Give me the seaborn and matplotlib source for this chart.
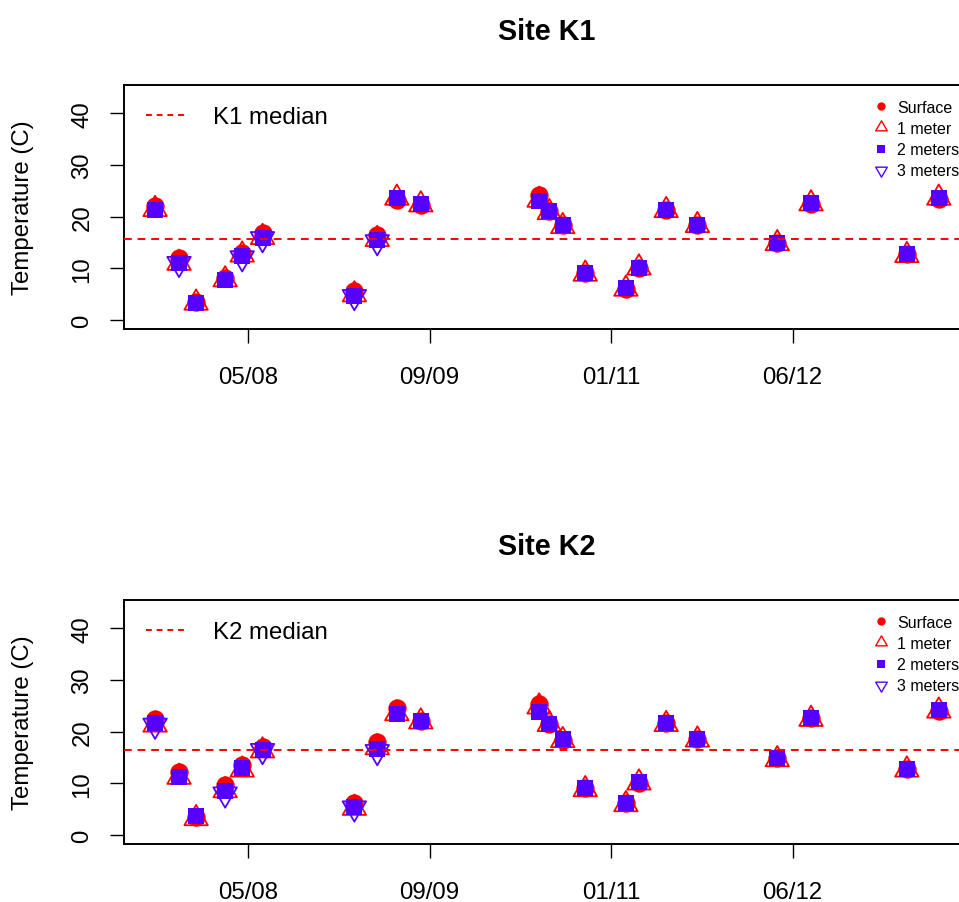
import numpy as np
import pandas as pd
import matplotlib
matplotlib.use("Agg")
import matplotlib.pyplot as plt
import matplotlib.dates as mdates
from matplotlib.path import Path
from matplotlib.lines import Line2D
import seaborn as sns

# ---------------- data ----------------
dates = ["2007-08-19", "2007-10-24", "2007-12-10", "2008-02-28", "2008-04-15",
         "2008-06-10", "2009-02-18", "2009-04-22", "2009-06-15", "2009-08-20",
         "2010-07-12", "2010-08-09", "2010-09-15", "2010-11-16", "2011-03-08",
         "2011-04-13", "2011-06-27", "2011-09-21", "2012-04-28", "2012-07-30",
         "2013-04-20", "2013-07-17"]

nan = np.nan
k1_surface = [22.0, 11.9, 3.4, 8.2, 13.0, 16.8, 5.6, 16.4, 23.3, 22.3, 24.1,
              21.0, 18.3, 9.0, 6.0, 10.0, 21.2, 18.3, 14.8, 22.5, 12.7, 23.4]
k1_1m = [21.4, 11.0, 3.3, 7.8, 12.6, 16.0, 4.9, 15.6, 23.6, 22.3, 23.2,
         20.8, 18.1, 8.9, 6.0, 10.1, 21.2, 18.3, 14.8, 22.5, 12.5, 23.6]
k1_2m = [21.3, 11.0, 3.3, 7.7, 12.3, 15.8, 4.7, 15.5, 23.5, 22.4, 23.1,
         21.0, 18.4, 9.1, 6.1, 10.0, 21.3, 18.4, 14.9, 22.6, 12.8, 23.5]
k1_3m = [nan, 10.9, nan, nan, 12.0, 15.7, 4.5, 15.1, nan, nan, nan,
         nan, nan, nan, nan, nan, nan, nan, nan, nan, nan, nan]

k2_surface = [22.4, 12.2, 3.5, 9.6, 13.5, 17.1, 6.2, 17.9, 24.5, 22.0, 25.3,
              21.4, 18.4, 9.0, 6.1, 10.1, 21.6, 18.5, 14.8, 22.6, 12.7, 24.0]
k2_1m = [21.3, 11.2, 3.2, 8.6, 12.6, 16.3, 5.2, 16.9, 23.5, 21.9, 24.8,
         21.4, 18.3, 8.8, 5.9, 10.1, 21.4, 18.4, 14.6, 22.4, 12.6, 24.0]
k2_2m = [21.6, 11.2, 3.6, 8.5, 12.9, 16.4, 5.4, 16.7, 23.4, 22.1, 23.8,
         21.4, 18.5, 9.1, 6.2, 10.2, 21.7, 18.6, 14.9, 22.7, 12.8, 24.1]
k2_3m = [21.2, nan, nan, 7.9, nan, 16.3, 5.2, 16.1, nan, nan, nan,
         nan, nan, nan, nan, nan, nan, nan, nan, nan, nan, nan]

k1_median = 15.6
k2_median = 16.5

sites = ["K1", "K2"]
depth_labels = ["Surface", "1 meter", "2 meters", "3 meters"]
tick_dates = ["2008-05-01", "2009-09-13", "2011-01-26", "2012-06-09"]
tick_labels = ["05/08", "09/09", "01/11", "06/12"]
y_ticks = [0, 10, 20, 30, 40]

# ---------------- style ----------------
sns.set_theme(style="white")
plt.rcParams["font.family"] = ["Liberation Sans", "DejaVu Sans"]
plt.rcParams["text.color"] = "black"

RED = "#FF0000"
BLUE = "#5500FF"
DASH = (0, (4, 3))

# R-like triangles centred on their centroid
TRI_UP = Path([(0, 1.5551), (1.3468, -0.7776), (-1.3468, -0.7776), (0, 1.5551)],
              [Path.MOVETO, Path.LINETO, Path.LINETO, Path.CLOSEPOLY])
TRI_DN = Path([(0, -1.5551), (1.3468, 0.7776), (-1.3468, 0.7776), (0, -1.5551)],
              [Path.MOVETO, Path.LINETO, Path.LINETO, Path.CLOSEPOLY])

W, H = 959, 903
fig = plt.figure(figsize=(W / 100, H / 100), dpi=100)

x_left_day = 13658.4
x_right_day = 15986.2

panel_specs = [
    (sites[0], k1_surface, k1_1m, k1_2m, k1_3m, k1_median, 86),
    (sites[1], k2_surface, k2_1m, k2_2m, k2_3m, k2_median, 601),
]

tick_pos = mdates.date2num(pd.to_datetime(tick_dates))

for site, surf, m1, m2, m3, med, top_px in panel_specs:
    ax = fig.add_axes([124 / W, (H - top_px - 244) / H, 845 / W, 244 / H])
    df = pd.DataFrame({
        "day": mdates.date2num(pd.to_datetime(dates)),
        "surface": surf, "m1": m1, "m2": m2, "m3": m3,
    })

    sns.scatterplot(data=df, x="day", y="surface", ax=ax, marker="o",
                    s=175, color=RED, edgecolor=RED, linewidth=0, legend=False)
    sns.scatterplot(data=df, x="day", y="m1", ax=ax, marker=TRI_UP,
                    s=380, facecolor="none", edgecolor=RED, linewidth=1.3,
                    legend=False)
    sns.scatterplot(data=df, x="day", y="m2", ax=ax, marker="s",
                    s=136, color=BLUE, edgecolor=BLUE, linewidth=0, legend=False)
    sns.scatterplot(data=df, x="day", y="m3", ax=ax, marker=TRI_DN,
                    s=380, facecolor="none", edgecolor=BLUE, linewidth=1.3,
                    legend=False)

    ax.axhline(med, color=RED, linestyle=DASH, linewidth=1.4, zorder=5)

    ax.set_xlim(x_left_day, x_right_day)
    ax.set_ylim(-1.74, 45.45)
    ax.set_xticks(tick_pos)
    ax.set_xticklabels(tick_labels)
    ax.set_yticks(y_ticks)
    ax.set_yticklabels([str(v) for v in y_ticks], rotation=90, va="center")

    for sp in ax.spines.values():
        sp.set_visible(True)
        sp.set_color("black")
        sp.set_linewidth(1.4)

    ax.tick_params(axis="both", bottom=True, left=True, direction="out",
                   length=10.4, width=1.0, color="black", labelsize=17.3,
                   labelcolor="black")
    ax.tick_params(axis="x", pad=16.5)
    ax.tick_params(axis="y", pad=11.5)

    ax.set_xlabel("")
    ax.set_ylabel("Temperature (C)", fontsize=17.3, color="black", va="center")
    ax.yaxis.set_label_coords(-101 / 845, 0.5)

    ax.set_title(f"Site {site}", fontsize=20.7, fontweight="bold",
                 color="black", pad=32.9)

    # median legend (top-left)
    h1 = [Line2D([], [], color=RED, linestyle=(0, (3, 2.5)), linewidth=1.4)]
    leg1 = ax.legend(h1, [f"{site} median"], loc="upper left",
                     bbox_to_anchor=(0.026, 0.912), frameon=False,
                     fontsize=17.3, handlelength=1.75, handletextpad=1.03,
                     borderpad=0, borderaxespad=0, labelcolor="black")
    ax.add_artist(leg1)

    # depth legend (top-right)
    h2 = [
        Line2D([], [], linestyle="none", marker="o", markersize=6.0,
               markerfacecolor=RED, markeredgecolor=RED, markeredgewidth=0),
        Line2D([], [], linestyle="none", marker=TRI_UP, markersize=9.6,
               markerfacecolor="none", markeredgecolor=RED, markeredgewidth=1.0),
        Line2D([], [], linestyle="none", marker="s", markersize=5.5,
               markerfacecolor=BLUE, markeredgecolor=BLUE, markeredgewidth=0),
        Line2D([], [], linestyle="none", marker=TRI_DN, markersize=9.6,
               markerfacecolor="none", markeredgecolor=BLUE, markeredgewidth=1.0),
    ]
    ax.legend(h2, depth_labels, loc="upper left",
              bbox_to_anchor=(0.8864, 0.940), frameon=False, fontsize=11.5,
              handlelength=1.0, handletextpad=0.5, labelspacing=0.39,
              borderpad=0, borderaxespad=0, labelcolor="black")

fig.savefig("out.png", dpi=100)
